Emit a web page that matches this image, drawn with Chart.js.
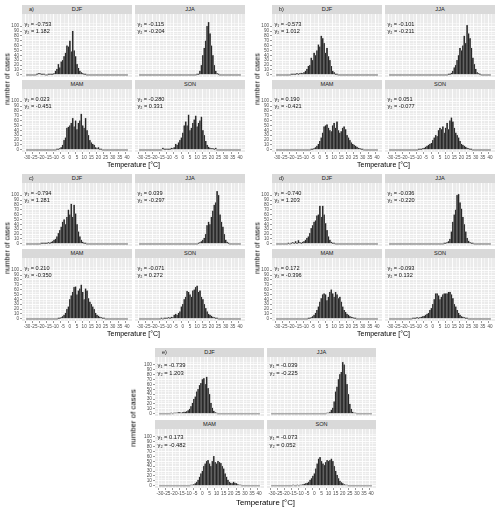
<!DOCTYPE html>
<html>
<head>
<meta charset="utf-8">
<script src="https://cdn.jsdelivr.net/npm/chart.js@4.4.0/dist/chart.umd.min.js"></script>
<style>
  body { margin: 0; background: #fff; }
  #fig { position: relative; width: 500px; height: 513px; overflow: hidden; font-family: "Liberation Sans", Arial, sans-serif; }
  #fig canvas { position: absolute; }
  .strip { position: absolute; background: #d9d9d9; color: #1a1a1a; text-align: center; white-space: nowrap; }
  .tag { position: absolute; left: 7px; top: 0; }
  .ttl { position: absolute; color: #000; white-space: nowrap; transform: translate(-50%, -50%); }
  .ttl.rot { transform: translate(-50%, -50%) rotate(-90deg); }
</style>
</head>
<body>
<div id="fig"></div>
<script>
// bins are 1 °C wide, centred on whole degrees
const binLo = -30, binHi = 40;
const xTickLabels = [-30, -25, -20, -15, -10, -5, 0, 5, 10, 15, 20, 25, 30, 35, 40];
const yTickLabels = [0, 10, 20, 30, 40, 50, 60, 70, 80, 90, 100];
const seasons = ['DJF', 'JJA', 'MAM', 'SON'];

// number of cases per bin, "from" = first listed bin
const a_DJF = { from: -23, n: [1,3,3,2,2,1,0,0,1,1,1,2,3,8,12,22,15,27,30,38,45,60,58,70,48,90,50,38,22,14,8,5,3,2,1] };
const a_JJA = { from: 10, n: [1,2,8,20,40,55,70,100,108,85,60,40,20,8,3,1] };
const a_MAM = { from: -9, n: [1,2,3,5,10,20,25,45,47,50,55,65,48,60,42,55,60,74,50,45,65,40,30,20,15,12,10,5,3,5,2,1] };
const a_SON = { from: -14, n: [4,1,1,2,1,2,4,3,5,12,10,15,20,25,35,50,58,50,72,40,45,55,62,70,48,55,60,68,40,30,18,10,6,4,3,3,2,4] };

const b_DJF = { from: -20, n: [1,1,2,2,3,2,3,4,3,5,8,12,18,20,35,30,45,40,50,62,58,80,75,65,45,55,38,30,18,8,5,2,1] };
const b_JJA = { from: 11, n: [1,2,4,8,15,20,30,40,55,50,60,80,65,102,85,75,55,35,22,12,5,3,1] };
const b_MAM = { from: -6, n: [1,2,3,5,8,12,18,25,35,48,50,52,45,40,38,50,55,45,58,40,35,38,45,48,42,30,25,20,15,12,10,8,6,4,3,2,1] };
const b_SON = { from: -10, n: [1,2,2,3,4,6,8,10,12,14,20,25,30,28,40,45,42,48,35,45,55,42,60,66,58,45,35,30,25,18,12,10,8,6,4,3,2,1] };

const c_DJF = { from: -20, n: [1,2,1,1,2,3,2,4,5,8,10,15,22,28,35,45,50,40,55,70,60,82,55,80,62,40,25,15,8,4,2,1] };
const c_JJA = { from: 11, n: [1,3,5,8,12,20,38,45,40,55,68,80,85,108,100,60,45,35,20,8,4,2] };
const c_MAM = { from: -8, n: [1,2,3,5,8,12,20,25,40,48,55,65,66,50,58,62,70,55,40,62,58,42,35,30,25,20,12,8,6,4,3,2,1] };
const c_SON = { from: -15, n: [1,0,1,2,1,3,2,4,3,8,10,8,12,15,25,30,40,45,57,55,50,45,58,60,65,68,55,58,45,40,30,22,15,10,8,6,4,3,2,1] };

const d_DJF = { from: -22, n: [1,0,1,3,1,5,2,7,3,2,4,5,8,12,15,22,32,38,45,48,58,60,78,55,78,60,42,28,15,8,4,2,1] };
const d_JJA = { from: 8, n: [1,2,3,5,10,25,45,60,70,100,102,85,72,55,40,25,12,6,3,2,1] };
const d_MAM = { from: -8, n: [1,2,3,5,8,12,18,25,35,42,50,52,50,38,45,55,60,52,45,55,50,42,45,35,25,18,14,10,8,5,4,3,2,1] };
const d_SON = { from: -14, n: [2,1,2,3,2,3,4,5,6,8,10,12,18,22,30,40,52,52,48,40,45,50,52,52,52,55,55,50,42,30,25,18,12,8,5,4,3,2,1] };

const e_DJF = { from: -22, n: [1,0,1,2,2,3,3,2,3,4,4,5,7,10,15,22,30,35,45,50,58,62,70,72,60,75,52,40,22,12,6,3,1] };
const e_JJA = { from: 9, n: [1,2,4,8,12,25,45,55,70,80,85,105,100,80,60,40,20,10,4,2,1] };
const e_MAM = { from: -8, n: [1,2,3,5,8,12,18,25,30,40,45,50,52,45,40,50,60,48,45,50,48,46,40,35,25,18,12,8,6,5,8,6,5,3,2,1] };
const e_SON = { from: -15, n: [2,0,0,1,0,2,2,3,4,5,6,8,12,15,20,25,35,45,55,58,50,45,42,48,52,50,52,55,50,40,30,22,15,10,7,5,3,2,1] };

// skewness / kurtosis shown in each facet (DJF, JJA, MAM, SON)
const a_gamma = [['-0.753', '1.182'], ['-0.115', '-0.204'], ['0.023', '-0.451'], ['-0.280', '0.331']];
const b_gamma = [['-0.573', '1.012'], ['-0.101', '-0.211'], ['0.190', '-0.421'], ['0.051', '-0.077']];
const c_gamma = [['-0.794', '1.281'], ['0.039', '-0.297'], ['0.210', '-0.350'], ['-0.071', '0.272']];
const d_gamma = [['-0.740', '1.203'], ['-0.036', '-0.220'], ['0.172', '-0.396'], ['-0.093', '0.132']];
const e_gamma = [['-0.739', '1.203'], ['-0.039', '-0.225'], ['0.173', '-0.482'], ['-0.073', '0.052']];

const panels = [
  { tag: 'a', series: [a_DJF, a_JJA, a_MAM, a_SON], gamma: a_gamma, x0: 22, y0: 5, W: 110, H: 63, gapX: 3, gapY: 3, yMax: 125, yTitleX: 7, fs: 7, tickFs: 4.6, gFs: 5.6, gDy: [10, 17] },
  { tag: 'b', series: [b_DJF, b_JJA, b_MAM, b_SON], gamma: b_gamma, x0: 272, y0: 5, W: 110, H: 63, gapX: 3, gapY: 3, yMax: 125, yTitleX: 257, fs: 7, tickFs: 4.6, gFs: 5.6, gDy: [10, 17] },
  { tag: 'c', series: [c_DJF, c_JJA, c_MAM, c_SON], gamma: c_gamma, x0: 22, y0: 174, W: 110, H: 63, gapX: 3, gapY: 3, yMax: 125, yTitleX: 7, fs: 7, tickFs: 4.6, gFs: 5.6, gDy: [10, 17] },
  { tag: 'd', series: [d_DJF, d_JJA, d_MAM, d_SON], gamma: d_gamma, x0: 272, y0: 174, W: 110, H: 63, gapX: 3, gapY: 3, yMax: 125, yTitleX: 257, fs: 7, tickFs: 4.6, gFs: 5.6, gDy: [10, 17] },
  { tag: 'e', series: [e_DJF, e_JJA, e_MAM, e_SON], gamma: e_gamma, x0: 155, y0: 348, W: 109, H: 59, gapX: 3, gapY: 4, yMax: 115.5, yTitleX: 133, fs: 7.8, tickFs: 4.8, gFs: 5.8, gDy: [8, 16.5] }
];

const STRIP = 9, M = 5, Y_AXIS_W = 20, X_AXIS_H = 9;

const xGrid = [];
for (let v = -32.5; v <= 42.5; v += 2.5) xGrid.push(v);
const yGrid = [];
for (let v = 0; v <= 105; v += 5) yGrid.push(v);

const isMajor = (c, list) => !!(c && c.tick && list.includes(c.tick.value));

const panelBg = {
  id: 'panelBg',
  beforeDraw(chart) {
    const { ctx, chartArea: a } = chart;
    ctx.save();
    ctx.fillStyle = '#ebebeb';
    ctx.fillRect(a.left, a.top, a.right - a.left, a.bottom - a.top);
    ctx.restore();
  }
};

const gammaText = {
  id: 'gammaText',
  afterDatasetsDraw(chart, args, o) {
    const { ctx, chartArea: a } = chart;
    ctx.save();
    ctx.font = o.size + 'px "Liberation Sans", Arial, sans-serif';
    ctx.fillStyle = '#111';
    ctx.textBaseline = 'middle';
    ctx.fillText('γ₁ = ' + o.g1, a.left + 2.5, a.top + o.dy1);
    ctx.fillText('γ₂ = ' + o.g2, a.left + 2.5, a.top + o.dy2);
    ctx.restore();
  }
};

function binPoints(s) {
  const pts = [];
  for (let t = binLo; t <= binHi; t++) {
    const i = t - s.from;
    pts.push({ x: t, y: (i >= 0 && i < s.n.length) ? s.n[i] : 0 });
  }
  return pts;
}

const fig = document.getElementById('fig');

function addDiv(cls, text, css) {
  const d = document.createElement('div');
  d.className = cls;
  d.textContent = text;
  Object.assign(d.style, css);
  fig.appendChild(d);
  return d;
}

panels.forEach(p => {
  const bottom = p.y0 + 2 * STRIP + 2 * p.H + p.gapY;
  const right = p.x0 + 2 * p.W + p.gapX;

  seasons.forEach((season, k) => {
    const col = k % 2, row = Math.floor(k / 2);
    const L = p.x0 + col * (p.W + p.gapX);
    const T = p.y0 + STRIP + row * (p.H + p.gapY + STRIP);

    const strip = addDiv('strip', season, {
      left: L + 'px', top: (T - STRIP) + 'px', width: p.W + 'px', height: STRIP + 'px',
      lineHeight: STRIP + 'px', fontSize: '5.6px'
    });
    if (k === 0) {
      const tg = document.createElement('span');
      tg.className = 'tag';
      tg.textContent = p.tag + ')';
      strip.appendChild(tg);
    }

    const yW = col === 0 ? Y_AXIS_W : 0;
    const xH = row === 1 ? X_AXIS_H : 0;
    const cv = document.createElement('canvas');
    cv.width = p.W + yW + 2 * M;
    cv.height = p.H + xH + 2 * M;
    cv.style.left = (L - yW - M) + 'px';
    cv.style.top = (T - M) + 'px';
    fig.appendChild(cv);

    new Chart(cv, {
      type: 'bar',
      data: {
        datasets: [{
          data: binPoints(p.series[k]),
          backgroundColor: c => (c.raw && c.raw.y === 0) ? '#a6a6a6' : '#262626',
          borderColor: '#8c8c8c',
          borderWidth: 0.4,
          minBarLength: 1,
          barPercentage: 1,
          categoryPercentage: 1
        }]
      },
      options: {
        responsive: false,
        animation: false,
        devicePixelRatio: 1,
        events: [],
        layout: { padding: M },
        plugins: {
          legend: { display: false },
          tooltip: { enabled: false },
          gammaText: { g1: p.gamma[k][0], g2: p.gamma[k][1], dy1: p.gDy[0], dy2: p.gDy[1], size: p.gFs }
        },
        scales: {
          x: {
            type: 'linear', min: binLo - 3.5, max: binHi + 3.5, offset: false,
            border: { display: false },
            afterBuildTicks: s => { s.ticks = xGrid.map(v => ({ value: v })); },
            afterFit: s => { s.height = xH; },
            ticks: {
              display: row === 1, autoSkip: false, maxRotation: 0, minRotation: 0, padding: 0.5,
              color: '#4d4d4d', font: { size: p.tickFs, family: '"Liberation Sans", Arial, sans-serif' },
              callback: v => xTickLabels.includes(v) ? String(v) : ''
            },
            grid: {
              color: '#ffffff',
              lineWidth: c => isMajor(c, xTickLabels) ? 0.9 : 0.45,
              drawTicks: row === 1, tickLength: 2, tickWidth: 0.5,
              tickColor: c => isMajor(c, xTickLabels) ? '#333333' : 'rgba(0,0,0,0)'
            }
          },
          y: {
            type: 'linear', min: -4.5, max: p.yMax,
            border: { display: false },
            afterBuildTicks: s => { s.ticks = yGrid.map(v => ({ value: v })); },
            afterFit: s => { s.width = yW; },
            ticks: {
              display: col === 0, autoSkip: false, padding: 1,
              color: '#4d4d4d', font: { size: p.tickFs, family: '"Liberation Sans", Arial, sans-serif' },
              callback: v => yTickLabels.includes(v) ? String(v) : ''
            },
            grid: {
              color: '#ffffff',
              lineWidth: c => isMajor(c, yTickLabels) ? 0.9 : 0.45,
              drawTicks: col === 0, tickLength: 2, tickWidth: 0.5,
              tickColor: c => isMajor(c, yTickLabels) ? '#333333' : 'rgba(0,0,0,0)'
            }
          }
        }
      },
      plugins: [panelBg, gammaText]
    });
  });

  addDiv('ttl', 'Temperature [°C]', {
    left: ((p.x0 + right) / 2) + 'px', top: (bottom + 12 + (p.tag === 'e' ? 2 : 0)) + 'px', fontSize: p.fs + 'px'
  });
  addDiv('ttl rot', 'number of cases', {
    left: p.yTitleX + 'px', top: ((p.y0 + bottom) / 2) + 'px', fontSize: p.fs + 'px'
  });
});
</script>
</body>
</html>
